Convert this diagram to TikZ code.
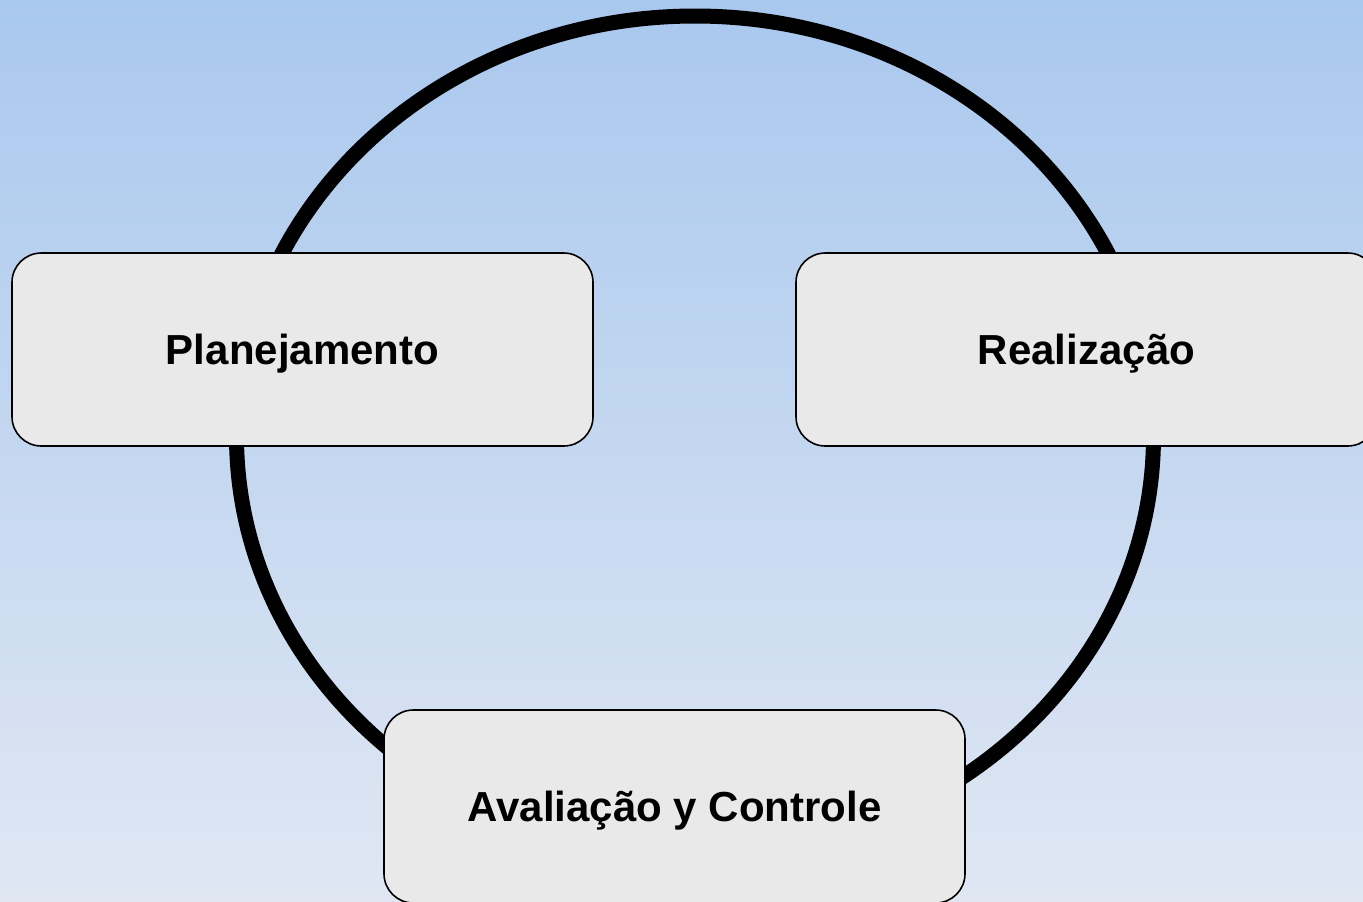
\documentclass[tikz,border=0pt]{standalone}
\usepackage{fontspec}
\setmainfont{Liberation Sans}
\usepackage{tikz}

\definecolor{skytop}{HTML}{A9C8EE}
\definecolor{skybottom}{HTML}{E0E7F3}
\definecolor{boxfill}{HTML}{E9E9E9}

\tikzset{
	stage/.style={draw=black, line width=1.2pt, fill=boxfill, rounded corners=22pt,
		minimum width=435.75pt, minimum height=144.75pt, inner sep=0pt,
		text height=22.5pt, text depth=0pt,
		font=\fontsize{31.5}{38}\selectfont\bfseries},
	loopline/.style={draw=black, line width=11.25pt}
}

\begin{document}
\begin{tikzpicture}[x=0.75pt, y=-0.75pt]
	\shade[top color=skytop, bottom color=skybottom] (0,0) rectangle (1363,901);
	\useasboundingbox (0,0) rectangle (1363,901);
	\coordinate (hub) at (695,436);
	\draw[loopline] (hub) ellipse [x radius=458.5, y radius=420];
	\node[stage] (plan) at (302.5,349.5) {Planejamento};
	\node[stage] (real) at (1086.5,349.5) {Realização};
	\node[stage] (aval) at (674.5,806.5) {Avaliação y Controle};
\end{tikzpicture}
\end{document}
